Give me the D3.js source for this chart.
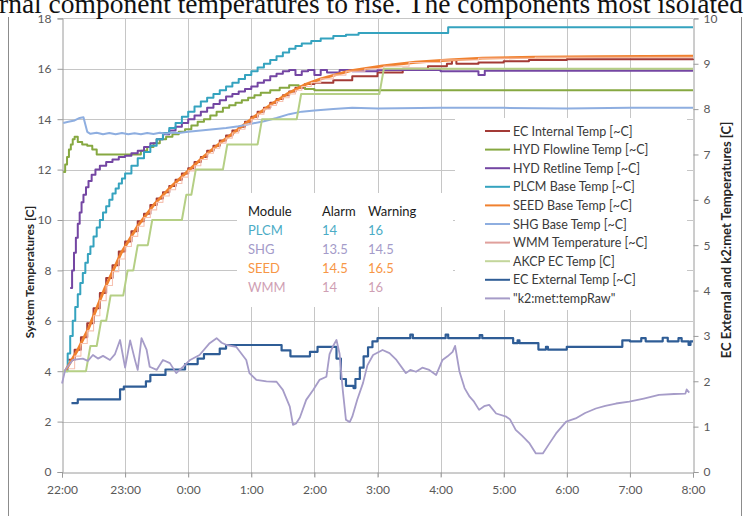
<!DOCTYPE html>
<html>
<head>
<meta charset="utf-8">
<script src="https://cdn.jsdelivr.net/npm/d3@7"></script>
<style>
  html, body { margin: 0; padding: 0; background: #fff; overflow: hidden; }
  svg { display: block; font-family: Lato, "Open Sans", sans-serif; }
</style>
</head>
<body>
<svg id="chart" width="745" height="516"></svg>
<script>
// ---- data: time is hours after 22:00 ----
const hourLabels = ["22:00","23:00","0:00","1:00","2:00","3:00","4:00","5:00","6:00","7:00","8:00"];
const leftTicks = [0, 2, 4, 6, 8, 10, 12, 14, 16, 18];
const rightTicks = [0, 1, 2, 3, 4, 5, 6, 7, 8, 9, 10];

const ecInternal = [[0.1,4.45],[0.2,4.85],[0.3,5.35],[0.4,5.9],[0.5,6.5],[0.6,7.1],[0.7,7.7],[0.8,8.2],[0.9,8.75],[1.0,9.15],[1.1,9.55],[1.2,9.95],[1.3,10.25],[1.4,10.6],[1.5,10.85],[1.6,11.1],[1.7,11.35],[1.8,11.6],[1.9,11.85],[2.0,12.05],[2.1,12.3],[2.2,12.5],[2.3,12.75],[2.4,12.95],[2.5,13.15],[2.6,13.35],[2.7,13.55],[2.8,13.7],[2.9,13.9],[3.0,14.1],[3.1,14.3],[3.2,14.45],[3.3,14.65],[3.4,14.8],[3.5,14.95],[3.6,15.1],[3.7,15.25],[3.85,15.4],[4.0,15.45],[4.3,15.55],[4.6,15.7],[5.0,15.85],[5.4,16.0],[5.8,16.1],[6.1,16.2],[6.18,16.35],[6.25,16.2],[6.6,16.25],[7.0,16.3],[7.4,16.35],[8.0,16.38],[10,16.4]];

const hydFlowline = [[0.02,11.9],[0.05,12.2],[0.08,12.5],[0.11,12.8],[0.14,13.0],[0.17,13.2],[0.2,13.3],[0.25,13.1],[0.32,13.0],[0.4,12.95],[0.48,12.8],[0.55,12.6],[1.15,12.6],[1.25,12.75],[1.35,12.9],[1.45,13.05],[1.55,13.2],[1.65,13.3],[1.75,13.4],[1.85,13.5],[1.95,13.6],[2.05,13.75],[2.15,13.9],[2.25,14.0],[2.35,14.15],[2.45,14.3],[2.55,14.45],[2.65,14.55],[2.75,14.65],[2.85,14.75],[2.95,14.85],[3.05,14.95],[3.15,15.05],[3.3,15.15],[3.45,15.25],[3.6,15.35],[3.75,15.3],[3.85,15.2],[4.0,15.15],[10,15.15]];

const hydRetline = [[0.13,7.3],[0.16,8.0],[0.19,8.7],[0.22,9.3],[0.25,9.85],[0.28,10.3],[0.31,10.7],[0.34,11.0],[0.38,11.3],[0.42,11.55],[0.47,11.8],[0.53,12.0],[0.6,12.15],[0.7,12.3],[0.8,12.4],[0.9,12.5],[1.0,12.55],[1.1,12.65],[1.2,12.75],[1.3,12.9],[1.4,13.05],[1.5,13.2],[1.6,13.4],[1.7,13.55],[1.8,13.7],[1.9,13.85],[2.0,14.0],[2.1,14.15],[2.2,14.3],[2.3,14.45],[2.4,14.6],[2.5,14.75],[2.6,14.9],[2.7,15.0],[2.8,15.1],[2.9,15.2],[3.0,15.3],[3.1,15.45],[3.2,15.55],[3.3,15.7],[3.4,15.8],[3.5,15.9],[3.6,15.95],[3.7,15.75],[3.8,15.9],[3.9,15.95],[4.0,15.75],[4.1,15.95],[4.2,15.85],[4.4,15.95],[4.6,15.9],[5.0,15.95],[6.0,15.9],[6.6,15.75],[6.7,15.92],[10,15.92]];

const plcmBase = [[0.05,4.0],[0.09,4.7],[0.13,5.4],[0.17,6.0],[0.21,6.55],[0.25,7.05],[0.29,7.5],[0.33,7.9],[0.37,8.3],[0.41,8.65],[0.45,8.95],[0.5,9.35],[0.55,9.7],[0.6,10.0],[0.65,10.3],[0.7,10.55],[0.75,10.8],[0.8,11.05],[0.85,11.25],[0.9,11.45],[0.95,11.65],[1.0,11.85],[1.1,12.15],[1.2,12.45],[1.3,12.7],[1.4,12.95],[1.5,13.2],[1.6,13.45],[1.7,13.65],[1.8,13.85],[1.9,14.1],[2.0,14.3],[2.1,14.5],[2.2,14.7],[2.3,14.85],[2.4,15.0],[2.5,15.15],[2.6,15.3],[2.7,15.45],[2.8,15.6],[2.9,15.75],[3.0,15.9],[3.1,16.05],[3.2,16.2],[3.3,16.35],[3.4,16.5],[3.5,16.65],[3.6,16.8],[3.7,16.9],[3.8,17.0],[3.95,17.1],[4.1,17.2],[4.3,17.3],[4.5,17.35],[4.7,17.42],[6.12,17.65],[10,17.65]];

const seedBase = [[0.05,4.0],[0.25,4.85],[0.42,5.7],[0.68,7.3],[0.94,8.7],[1.21,9.8],[1.47,10.65],[1.74,11.35],[2.0,11.95],[2.26,12.55],[2.53,13.1],[2.79,13.6],[3.05,14.1],[3.32,14.6],[3.58,15.02],[3.84,15.36],[4.1,15.6],[4.56,15.92],[5.08,16.12],[5.6,16.26],[6.14,16.35],[6.66,16.42],[7.5,16.46],[8.5,16.48],[10,16.5]];

const shgBase = [[0.02,13.85],[0.1,13.9],[0.2,13.95],[0.28,14.05],[0.34,14.08],[0.4,13.5],[0.45,13.42],[0.55,13.46],[0.65,13.4],[0.75,13.45],[0.85,13.4],[0.95,13.45],[1.05,13.4],[1.15,13.44],[1.25,13.4],[1.35,13.45],[1.45,13.41],[1.55,13.46],[1.65,13.42],[1.75,13.47],[1.85,13.45],[2.0,13.5],[2.2,13.55],[2.4,13.6],[2.6,13.65],[2.8,13.72],[3.0,13.82],[3.2,13.92],[3.4,14.05],[3.6,14.2],[3.8,14.3],[4.0,14.35],[4.3,14.4],[4.6,14.45],[5.0,14.42],[6.0,14.45],[7.0,14.45],[8.0,14.42],[9.0,14.45],[10,14.45]];

const wmmTemp = [[0.1,4.1],[0.2,4.6],[0.3,5.1],[0.4,5.6],[0.5,6.2],[0.6,6.8],[0.7,7.4],[0.8,7.95],[0.9,8.45],[1.0,8.95],[1.1,9.35],[1.2,9.75],[1.3,10.1],[1.4,10.4],[1.5,10.7],[1.6,10.95],[1.7,11.2],[1.8,11.45],[1.9,11.7],[2.0,11.95],[2.1,12.15],[2.2,12.4],[2.3,12.65],[2.4,12.85],[2.5,13.05],[2.6,13.25],[2.7,13.45],[2.8,13.6],[2.9,13.8],[3.0,14.0],[3.1,14.2],[3.2,14.4],[3.3,14.55],[3.4,14.7],[3.5,14.85],[3.6,15.0],[3.7,15.15],[3.8,15.3],[3.95,15.45],[4.1,15.6],[4.3,15.75],[4.5,15.9],[4.8,16.0],[5.1,16.1],[5.5,16.25],[6.0,16.35],[6.6,16.42],[7.5,16.46],[10,16.47]];

const akcpEc = [[0.02,4],[0.38,4],[0.45,5],[0.55,5],[0.62,6],[0.7,6],[0.77,7],[0.97,7],[1.04,8],[1.13,8],[1.2,9],[1.36,9],[1.43,10],[1.9,10],[1.97,11],[2.05,11],[2.12,12],[2.55,12],[2.62,13],[3.1,13],[3.17,14],[3.72,14],[3.79,15],[5.03,15],[5.1,16],[10,16]];

// these two read against the right-hand axis
const ecExternal = [[0.15,1.52],[0.25,1.6],[0.9,1.6],[0.92,1.82],[0.98,1.88],[1.3,1.88],[1.33,2.0],[1.4,2.14],[1.62,2.14],[1.64,2.26],[1.92,2.26],[1.95,2.38],[2.12,2.38],[2.15,2.5],[2.25,2.6],[2.48,2.6],[2.5,2.72],[2.6,2.8],[3.45,2.8],[3.48,2.68],[3.62,2.55],[3.9,2.55],[3.93,2.65],[4.05,2.76],[4.32,2.76],[4.35,2.5],[4.42,2.05],[4.5,1.9],[4.62,1.85],[4.65,2.05],[4.72,2.3],[4.78,2.55],[4.85,2.75],[4.92,2.88],[5.0,2.95],[5.5,2.95],[5.52,3.03],[5.56,2.95],[6.05,2.95],[6.08,3.03],[6.12,2.95],[6.6,2.95],[6.62,3.02],[6.66,2.95],[7.15,2.84],[7.2,2.84],[7.22,2.9],[7.25,2.84],[7.55,2.7],[7.65,2.7],[7.67,2.76],[7.7,2.7],[8.0,2.76],[8.85,2.76],[8.88,2.9],[9.0,2.88],[9.15,2.88],[9.18,2.95],[9.25,2.88],[9.5,2.88],[9.52,2.96],[9.6,2.88],[9.75,2.88],[9.77,2.95],[9.82,2.88],[9.93,2.8],[9.96,2.88],[10,2.88]];

const k2TempRaw = [[0,1.95],[0.05,2.25],[0.17,2.47],[0.33,2.5],[0.41,2.45],[0.49,2.58],[0.57,2.5],[0.65,2.56],[0.76,2.47],[0.84,2.6],[0.92,2.91],[1.0,2.3],[1.08,2.9],[1.16,2.45],[1.2,2.25],[1.26,2.95],[1.34,2.7],[1.39,2.32],[1.5,2.25],[1.6,2.47],[1.71,2.4],[1.81,2.18],[1.92,2.32],[2.03,2.47],[2.18,2.58],[2.34,2.84],[2.45,2.95],[2.53,2.85],[2.61,2.8],[2.76,2.76],[2.92,2.47],[2.97,2.18],[3.08,2.03],[3.24,2.0],[3.4,1.99],[3.5,1.81],[3.61,1.44],[3.66,1.04],[3.71,1.07],[3.77,1.2],[3.87,1.59],[3.98,1.81],[4.08,2.03],[4.19,2.1],[4.24,2.6],[4.29,2.76],[4.35,2.91],[4.4,2.6],[4.45,1.8],[4.5,1.15],[4.56,1.1],[4.6,1.22],[4.68,1.6],[4.77,1.96],[4.84,2.35],[4.93,2.58],[5.08,2.69],[5.19,2.62],[5.3,2.47],[5.45,2.18],[5.52,2.25],[5.61,2.21],[5.71,2.3],[5.82,2.25],[5.93,2.14],[6.03,2.47],[6.11,2.55],[6.19,2.65],[6.23,2.78],[6.3,2.21],[6.38,1.85],[6.46,1.66],[6.53,1.55],[6.61,1.37],[6.69,1.45],[6.77,1.48],[6.88,1.29],[7.04,1.22],[7.1,1.16],[7.19,0.93],[7.29,0.8],[7.41,0.63],[7.51,0.41],[7.62,0.41],[7.72,0.62],[7.83,0.85],[7.99,1.11],[8.14,1.18],[8.29,1.3],[8.46,1.4],[8.61,1.46],[8.78,1.51],[8.99,1.55],[9.22,1.62],[9.46,1.7],[9.7,1.72],[9.88,1.73],[9.9,1.82],[9.94,1.75]];

const series = [
  { name: "EC Internal Temp [~C]", data: ecInternal, color: "#a33a36", width: 2, axis: "left", step: true },
  { name: "HYD Flowline Temp [~C]", data: hydFlowline, color: "#86a841", width: 2, axis: "left", step: true },
  { name: "HYD Retline Temp [~C]", data: hydRetline, color: "#7446a3", width: 2, axis: "left", step: true },
  { name: "PLCM Base Temp [~C]", data: plcmBase, color: "#35a3bf", width: 2, axis: "left", step: true },
  { name: "SEED Base Temp [~C]", data: seedBase, color: "#f0812f", width: 2.8, axis: "left", step: false },
  { name: "SHG Base Temp [~C]", data: shgBase, color: "#8eaee0", width: 2, axis: "left", step: false },
  { name: "WMM Temperature [~C]", data: wmmTemp, color: "#f6c2b2", width: 1.1, axis: "left", step: true },
  { name: "AKCP EC Temp [C]", data: akcpEc, color: "#b5cf85", width: 2, axis: "left", step: false },
  { name: "EC External Temp [~C]", data: ecExternal, color: "#2f5d96", width: 2.2, axis: "right", step: true },
  { name: "\"k2:met:tempRaw\"", data: k2TempRaw, color: "#a69cc8", width: 1.8, axis: "right", step: false }
];
const legendColors = ["#a33a36","#86a841","#7446a3","#35a3bf","#f0812f","#8eaee0","#e0a09c","#c3d69b","#2f5d96","#a69cc8"];

const tableHeader = ["Module", "Alarm", "Warning"];
const modules = ["PLCM", "SHG", "SEED", "WMM"];
const alarmLimits = ["14", "13.5", "14.5", "14"];
const warningLimits = ["16", "14.5", "16.5", "16"];
const moduleColors = ["#4bacc6", "#a49bc9", "#f79646", "#cf9fb4"];

// ---- layout ----
const svg = d3.select("#chart");
const plot = { left: 62, right: 693, top: 18.4, bottom: 472 };

const x = d3.scaleLinear().domain([0, 10]).range([plot.left, plot.right]);
const yL = d3.scaleLinear().domain([0, 18]).range([plot.bottom, plot.top]);
const yR = d3.scaleLinear().domain([0, 10]).range([plot.bottom, plot.top]);

// chart frame
svg.append("line").attr("x1", 8.5).attr("x2", 8.5).attr("y1", 17).attr("y2", 516)
  .attr("stroke", "#8c8c8c").attr("stroke-width", 1);
svg.append("line").attr("x1", 741.5).attr("x2", 741.5).attr("y1", 17).attr("y2", 516)
  .attr("stroke", "#8c8c8c").attr("stroke-width", 1);

// gridlines
const grid = svg.append("g").attr("stroke", "#c6c6c6").attr("stroke-width", 1);
grid.selectAll(".hg").data(leftTicks.filter(d => d > 0)).enter().append("line")
  .attr("x1", plot.left).attr("x2", plot.right)
  .attr("y1", d => Math.round(yL(d)) + 0.5).attr("y2", d => Math.round(yL(d)) + 0.5);
grid.selectAll(".vg").data(d3.range(1, 10)).enter().append("line")
  .attr("x1", d => Math.round(x(d)) + 0.5).attr("x2", d => Math.round(x(d)) + 0.5)
  .attr("y1", plot.top).attr("y2", plot.bottom + 5);

// axes
const axisColor = "#9a9a9a";
const tickColor = "#595959";
const bottomAxis = svg.append("g").attr("transform", `translate(0,${Math.round(plot.bottom) + 0.5})`)
  .call(d3.axisBottom(x).tickValues(d3.range(0, 11)).tickFormat(d => hourLabels[d]).tickSize(5).tickPadding(8));
const leftAxis = svg.append("g").attr("transform", `translate(${plot.left + 0.5},0)`)
  .call(d3.axisLeft(yL).tickValues(leftTicks).tickSize(5).tickPadding(6));
const rightAxis = svg.append("g").attr("transform", `translate(${plot.right + 0.5},0)`)
  .call(d3.axisRight(yR).tickValues(rightTicks).tickSize(5).tickPadding(5));
[bottomAxis, leftAxis, rightAxis].forEach(g => {
  g.select(".domain").attr("stroke", axisColor);
  g.selectAll(".tick line").attr("stroke", axisColor);
  g.selectAll(".tick text").attr("fill", tickColor).attr("font-size", 12)
    .attr("font-family", "Lato, 'Open Sans', sans-serif");
});

// axis titles
svg.append("text")
  .attr("transform", "translate(34,272) rotate(-90)")
  .attr("text-anchor", "middle")
  .attr("font-size", 12).attr("font-weight", "bold").attr("fill", "#262626")
  .text("System Temperatures [C]");
svg.append("text")
  .attr("transform", "translate(731,240) rotate(-90)")
  .attr("text-anchor", "middle")
  .attr("font-size", 13).attr("font-weight", "bold").attr("fill", "#262626")
  .text("EC External and k2:met Temperatures [C]");

// caption text running above the chart frame
svg.append("text")
  .attr("x", -1).attr("y", 13)
  .attr("font-family", "'Liberation Serif', 'Times New Roman', serif")
  .attr("font-size", 27)
  .attr("fill", "#111")
  .attr("textLength", 744)
  .attr("lengthAdjust", "spacingAndGlyphs")
  .text("rnal component temperatures to rise. The components most isolated");

// white panels behind the limits table and the legend
svg.append("rect").attr("x", 237).attr("y", 193).attr("width", 216).attr("height", 114).attr("fill", "#fff");
svg.append("rect").attr("x", 455).attr("y", 118).attr("width", 232).attr("height", 192).attr("fill", "#fff");

// series lines
const lines = svg.append("g").attr("fill", "none").attr("stroke-linejoin", "round");
series.forEach(s => {
  const yS = s.axis === "left" ? yL : yR;
  const gen = d3.line().x(d => x(d[0])).y(d => yS(d[1]))
    .curve(s.step ? d3.curveStepAfter : d3.curveLinear);
  lines.append("path").datum(s.data)
    .attr("d", gen)
    .attr("stroke", s.color)
    .attr("stroke-width", s.width);
});

// legend
const legend = svg.append("g").attr("transform", "translate(485,131)");
series.forEach((s, i) => {
  const row = legend.append("g").attr("transform", `translate(0,${i * 18.6})`);
  row.append("line").attr("x1", 0).attr("x2", 25).attr("y1", 0).attr("y2", 0)
    .attr("stroke", legendColors[i]).attr("stroke-width", 2);
  row.append("text").attr("x", 28).attr("y", 4.5).attr("font-size", 12.5).attr("fill", "#3a3a3a")
    .text(s.name);
});

// limits table
const colX = [248, 322, 368];
const table = svg.append("g").attr("font-size", 13);
tableHeader.forEach((h, j) => {
  table.append("text").attr("x", colX[j]).attr("y", 216).attr("fill", "#1a1a1a").text(h);
});
modules.forEach((m, i) => {
  const yRow = 235 + i * 19;
  [m, alarmLimits[i], warningLimits[i]].forEach((v, j) => {
    table.append("text").attr("x", colX[j]).attr("y", yRow).attr("fill", moduleColors[i]).text(v);
  });
});
</script>
</body>
</html>
